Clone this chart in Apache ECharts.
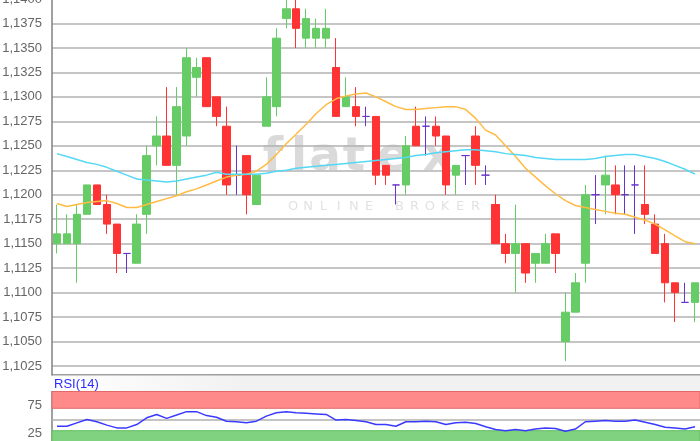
<!DOCTYPE html>
<html>
<head>
<meta charset="utf-8">
<script src="https://cdn.jsdelivr.net/npm/echarts@6/dist/echarts.min.js"></script>
<style>html,body{margin:0;padding:0;background:#fff}#c{width:700px;height:441px}</style>
</head>
<body>
<div id="c"></div>
<script>
// ---- data ----
const categories = ['1','2','3','4','5','6','7','8','9','10','11','12','13','14','15','16','17','18','19','20',
  '21','22','23','24','25','26','27','28','29','30','31','32','33','34','35','36','37','38','39','40',
  '41','42','43','44','45','46','47','48','49','50','51','52','53','54','55','56','57','58','59','60',
  '61','62','63','64','65'];
const openPrices = [1.1150,1.1150,1.1150,1.1180,1.1210,1.1190,1.1170,1.1140,1.1130,1.1180,
  1.1250,1.1260,1.1230,1.1260,1.1320,1.1340,1.1300,1.1270,1.1220,1.1240,
  1.1190,1.1270,1.1290,1.1380,1.1390,1.1360,1.1360,1.1360,1.1330,1.1290,
  1.1290,1.1280,1.1280,1.1230,1.1210,1.1210,1.1270,1.1270,1.1270,1.1260,
  1.1220,1.1240,1.1260,1.1220,1.1190,1.1150,1.1140,1.1150,1.1130,1.1130,
  1.1160,1.1050,1.1080,1.1130,1.1200,1.1210,1.1210,1.1200,1.1210,1.1190,
  1.1170,1.1150,1.1110,1.1090,1.1090];
const closePrices = [1.1160,1.1160,1.1180,1.1210,1.1190,1.1170,1.1140,1.1140,1.1170,1.1240,
  1.1260,1.1230,1.1290,1.1340,1.1330,1.1290,1.1280,1.1210,1.1220,1.1200,
  1.1220,1.1300,1.1360,1.1390,1.1370,1.1380,1.1370,1.1370,1.1280,1.1300,
  1.1280,1.1280,1.1220,1.1220,1.1210,1.1250,1.1250,1.1270,1.1260,1.1210,
  1.1230,1.1240,1.1230,1.1220,1.1150,1.1140,1.1150,1.1120,1.1140,1.1150,
  1.1140,1.1080,1.1110,1.1200,1.1200,1.1220,1.1200,1.1200,1.1210,1.1180,
  1.1140,1.1110,1.1100,1.1090,1.1110];
const lowPrices = [1.1140,1.1150,1.1110,1.1180,1.1190,1.1160,1.1120,1.1120,1.1130,1.1160,
  1.1230,1.1230,1.1200,1.1250,1.1300,1.1290,1.1270,1.1200,1.1200,1.1180,
  1.1190,1.1270,1.1280,1.1370,1.1350,1.1350,1.1350,1.1350,1.1280,1.1290,
  1.1270,1.1270,1.1210,1.1210,1.1190,1.1200,1.1250,1.1240,1.1250,1.1200,
  1.1200,1.1210,1.1210,1.1210,1.1150,1.1130,1.1100,1.1110,1.1110,1.1130,
  1.1120,1.1030,1.1080,1.1110,1.1170,1.1180,1.1180,1.1180,1.1160,1.1170,
  1.1140,1.1090,1.1070,1.1090,1.1070];
const highPrices = [1.1190,1.1180,1.1190,1.1210,1.1210,1.1200,1.1170,1.1140,1.1180,1.1250,
  1.1280,1.1310,1.1310,1.1350,1.1340,1.1340,1.1300,1.1290,1.1250,1.1240,
  1.1220,1.1320,1.1370,1.1400,1.1400,1.1390,1.1380,1.1390,1.1360,1.1320,
  1.1310,1.1290,1.1280,1.1230,1.1210,1.1260,1.1290,1.1280,1.1280,1.1260,
  1.1230,1.1240,1.1270,1.1230,1.1200,1.1160,1.1190,1.1150,1.1140,1.1160,
  1.1160,1.1100,1.1120,1.1210,1.1220,1.1240,1.1230,1.1230,1.1230,1.1230,
  1.1180,1.1160,1.1110,1.1110,1.1110];
const maShort = [1.1191,1.1188,1.1190,1.1192,1.1193,1.1194,1.1191,1.1187,1.1187,1.1190,
  1.1193,1.1196,1.1199,1.1203,1.1206,1.1210,1.1214,1.1218,1.1220,1.1221,
  1.1224,1.1231,1.1241,1.1252,1.1262,1.1272,1.1283,1.1292,1.1298,1.1301,
  1.1303,1.1304,1.1300,1.1295,1.1290,1.1287,1.1287,1.1288,1.1289,1.1290,
  1.1290,1.1287,1.1278,1.1266,1.1261,1.1250,1.1239,1.1227,1.1218,1.1209,
  1.1201,1.1194,1.1189,1.1187,1.1185,1.1183,1.1181,1.1180,1.1177,1.1174,
  1.1170,1.1164,1.1158,1.1152,1.1150];
const maLong = [1.1242,1.1239,1.1236,1.1233,1.1231,1.1228,1.1224,1.1220,1.1216,1.1215,
  1.1214,1.1213,1.1214,1.1216,1.1218,1.1220,1.1223,1.1221,1.1221,1.1221,
  1.1221,1.1222,1.1224,1.1225,1.1227,1.1228,1.1229,1.1230,1.1231,1.1232,
  1.1233,1.1234,1.1235,1.1236,1.1237,1.1238,1.1240,1.1241,1.1243,1.1244,
  1.1245,1.1246,1.1246,1.1245,1.1244,1.1242,1.1241,1.1240,1.1238,1.1237,
  1.1236,1.1236,1.1236,1.1236,1.1237,1.1239,1.1240,1.1241,1.1241,1.1239,
  1.1237,1.1234,1.1230,1.1226,1.1221];
const rsiValues = [38,38,44,50,46,40,35,35,41,53,
  59,52,58,64,64,57,54,47,46,44,
  47,56,62,64,62,61,60,59,49,50,
  48,46,41,41,38,46,46,47,46,41,
  44,45,43,37,32,30,32,30,33,35,
  34,29,33,46,47,48,47,47,49,45,
  41,36,35,33,37];
const priceTicks = [1.1025,1.1050,1.1075,1.1100,1.1125,1.1150,1.1175,1.1200,
  1.1225,1.1250,1.1275,1.1300,1.1325,1.1350,1.1375,1.1400];
const rsiTicks = [25, 75];
const rsiBands = [[70, 100], [0, 30]];
const rsiMid = 50;

// ---- styling ----
const UP = '#66cc66', DOWN = '#ff3333', DOJI = '#6633cc';
const candleData = openPrices.map((o, i) => {
  const item = { value: [o, closePrices[i], lowPrices[i], highPrices[i]] };
  if (o === closePrices[i]) item.itemStyle = { color: DOJI, borderColor: DOJI, color0: DOJI, borderColor0: DOJI };
  return item;
});

const chart = echarts.init(document.getElementById('c'), null, { renderer: 'canvas' });
const labelFont = { color: '#666666', fontSize: 13, fontFamily: '"Liberation Sans", Arial, sans-serif' };

const wmLetters = ['f','l','a','t','e','x'];
const wmX = [273, 299, 325, 354, 393, 438];
const brokerText = 'ONLINE BROKER'.split('');

const graphics = [];
wmLetters.forEach((ch, i) => graphics.push({
  type: 'text', x: wmX[i], y: 181, z: -10, silent: true,
  style: { text: ch, fill: '#dadada', font: 'bold 47px "DejaVu Sans", sans-serif', textAlign: 'center', textVerticalAlign: 'bottom' }
}));
brokerText.forEach((ch, i) => graphics.push({
  type: 'text', x: 293 + i * 15.2, y: 207, z: -10, silent: true,
  style: { text: ch, fill: '#e2e2e2', font: '13px "DejaVu Sans", sans-serif', textAlign: 'center', textVerticalAlign: 'middle' }
}));
graphics.push({
  type: 'rect', z: 100, silent: true,
  shape: { x: 52.5, y: 375.5, width: 648, height: 15.5 },
  style: { fill: new echarts.graphic.LinearGradient(0, 0, 1, 0, [
    { offset: 0, color: '#ffffff' }, { offset: 0.3, color: '#f1f1f1' }, { offset: 1, color: '#f1f1f1' }]) }
});
graphics.push({
  type: 'text', x: 54, y: 384, z: 101, silent: true,
  style: { text: 'RSI(14)', fill: '#2b2bff', font: '13px "Liberation Sans", Arial, sans-serif', textVerticalAlign: 'middle' }
});

chart.setOption({
  animation: false,
  backgroundColor: '#ffffff',
  graphic: graphics,
  grid: [
    { left: 52, right: 0, top: -1, height: 375.5, outerBoundsMode: 'none', containLabel: false },
    { left: 52, right: 0, top: 391.5, height: 56, outerBoundsMode: 'none', containLabel: false }
  ],
  xAxis: [
    { type: 'category', gridIndex: 0, data: categories, boundaryGap: true,
      axisLine: { show: true, lineStyle: { color: '#808080', width: 1.5 } },
      axisTick: { show: false }, axisLabel: { show: false }, splitLine: { show: false } },
    { type: 'category', gridIndex: 1, data: categories, boundaryGap: true, position: 'top',
      axisLine: { show: true, lineStyle: { color: '#8a8a8a', width: 1 } },
      axisTick: { show: false }, axisLabel: { show: false }, splitLine: { show: false } }
  ],
  yAxis: [
    { type: 'value', gridIndex: 0, min: 1.10163, max: 1.1400, scale: true,
      axisLine: { show: true, lineStyle: { color: '#808080', width: 1.5 } },
      axisTick: { show: false, customValues: priceTicks },
      axisLabel: Object.assign({ customValues: priceTicks, margin: 10,
        formatter: v => v.toFixed(4).replace('.', ',') }, labelFont),
      splitLine: { show: true, lineStyle: { color: '#b2b2b2', width: 1.5 } } },
    { type: 'value', gridIndex: 1, min: 0, max: 100, interval: 25,
      axisLine: { show: true, lineStyle: { color: '#808080', width: 1.5 } },
      axisTick: { show: false },
      axisLabel: Object.assign({ margin: 10, padding: [5, 0, 0, 0],
        formatter: v => rsiTicks.indexOf(v) >= 0 ? String(v) : '' }, labelFont),
      splitLine: { show: false } }
  ],
  series: [
    { type: 'candlestick', xAxisIndex: 0, yAxisIndex: 0, data: candleData, barWidth: 8, z: 3,
      itemStyle: { color: UP, color0: DOWN, borderColor: UP, borderColor0: DOWN, borderColorDoji: DOJI, borderWidth: 1 } },
    { type: 'line', xAxisIndex: 0, yAxisIndex: 0, data: maShort, symbol: 'none', z: 4,
      lineStyle: { color: '#ffbb44', width: 1.5 } },
    { type: 'line', xAxisIndex: 0, yAxisIndex: 0, data: maLong, symbol: 'none', z: 4,
      lineStyle: { color: '#55d8f5', width: 1.5 } },
    { type: 'line', xAxisIndex: 1, yAxisIndex: 1, data: rsiValues, symbol: 'none', z: 5,
      lineStyle: { color: '#3a3aff', width: 1.5 },
      markArea: { silent: true, data: [
        [{ yAxis: rsiBands[0][0], itemStyle: { color: '#ff8a8a', borderColor: '#e06a6a', borderWidth: 1 } }, { yAxis: rsiBands[0][1] }],
        [{ yAxis: rsiBands[1][0], itemStyle: { color: '#80d280', borderColor: '#5fbf5f', borderWidth: 1 } }, { yAxis: rsiBands[1][1] }]
      ] },
      markLine: { silent: true, symbol: 'none', label: { show: false },
        lineStyle: { color: '#b0b0b0', width: 1.5, type: 'solid' },
        data: [{ yAxis: rsiMid }] } }
  ]
});
</script>
</body>
</html>
